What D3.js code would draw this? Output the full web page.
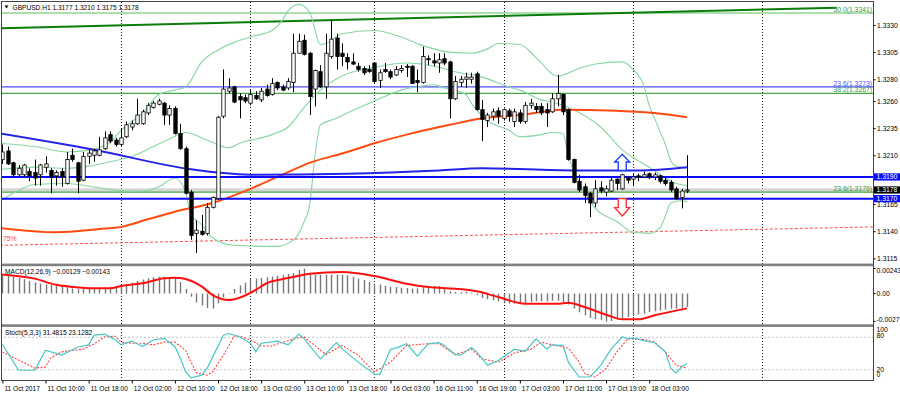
<!DOCTYPE html>
<html><head><meta charset="utf-8">
<script src="https://cdn.jsdelivr.net/npm/d3@7"></script>
<style>
html,body{margin:0;padding:0;background:#fff;}
svg{display:block;font-family:"Liberation Sans",Arial,sans-serif;}
</style></head><body>
<svg id="chart" width="900" height="394"></svg>
<script>
// ---------------- DATA ----------------
const symbolTitle = "GBPUSD.H1";
const opens = [1.3206,1.3214,1.3203,1.3192,1.3192,1.3195,1.3194,1.3192,1.3199,1.3196,
1.3191,1.3195,1.3184,1.3210,1.3203,1.3187,1.3209,1.3210,1.3210,1.3216,
1.3229,1.3224,1.3220,1.3227,1.3236,1.3239,1.3239,1.3249,1.3254,1.3257,
1.3258,1.3247,1.3253,1.3230,1.3216,1.3176,1.3138,1.3140,1.3138,1.3162,
1.3170,1.3246,1.3269,1.3273,1.3264,1.3263,1.3258,1.3265,1.3261,1.3271,
1.3266,1.3277,1.3273,1.3272,1.3277,1.3304,1.3316,1.3304,1.3271,1.3287,
1.3273,1.3301,1.3318,1.3304,1.3300,1.3296,1.3292,1.3290,1.3289,1.3295,
1.3279,1.3289,1.3287,1.3284,1.3288,1.3292,1.3292,1.3279,1.3277,1.3299,
1.3297,1.3295,1.3299,1.3296,1.3262,1.3277,1.3280,1.3280,1.3285,1.3252,
1.3242,1.3246,1.3251,1.3244,1.3251,1.3241,1.3249,1.3241,1.3256,1.3255,
1.3255,1.3252,1.3250,1.3262,1.3266,1.3252,1.3206,1.3186,1.3181,1.3175,
1.3166,1.3180,1.3176,1.3177,1.3188,1.3179,1.3189,1.3188,1.3191,1.3190,
1.3193,1.3190,1.3191,1.3187,1.3185,1.3179,1.3171,1.3177];
const highs = [1.3220,1.3218,1.3204,1.3201,1.3202,1.3198,1.3206,1.3202,1.3209,1.3198,
1.3196,1.3198,1.3213,1.3216,1.3204,1.3213,1.3215,1.3216,1.3227,1.3232,
1.3232,1.3226,1.3235,1.3241,1.3242,1.3262,1.3252,1.3258,1.3260,1.3262,
1.3259,1.3256,1.3255,1.3239,1.3218,1.3178,1.3150,1.3155,1.3166,1.3172,
1.3246,1.3289,1.3281,1.3274,1.3267,1.3266,1.3270,1.3269,1.3272,1.3275,
1.3281,1.3278,1.3275,1.3281,1.3322,1.3322,1.3321,1.3305,1.3289,1.3293,
1.3322,1.3335,1.3322,1.3313,1.3304,1.3304,1.3295,1.3292,1.3293,1.3295,
1.3289,1.3295,1.3289,1.3292,1.3293,1.3294,1.3293,1.3289,1.3310,1.3302,
1.3304,1.3304,1.3304,1.3297,1.3283,1.3283,1.3286,1.3286,1.3287,1.3261,
1.3249,1.3253,1.3254,1.3253,1.3253,1.3253,1.3252,1.3259,1.3262,1.3258,
1.3258,1.3258,1.3267,1.3284,1.3267,1.3253,1.3207,1.3192,1.3184,1.3176,
1.3187,1.3186,1.3182,1.3190,1.3189,1.3193,1.3190,1.3193,1.3193,1.3195,
1.3194,1.3194,1.3192,1.3189,1.3187,1.3181,1.3179,1.3210];
const lows = [1.3202,1.3201,1.3190,1.3191,1.3190,1.3186,1.3182,1.3182,1.3194,1.3175,
1.3182,1.3181,1.3183,1.3204,1.3175,1.3186,1.3202,1.3204,1.3209,1.3215,
1.3221,1.3218,1.3218,1.3226,1.3233,1.3238,1.3238,1.3247,1.3253,1.3256,
1.3238,1.3238,1.3229,1.3215,1.3174,1.3132,1.3120,1.3136,1.3136,1.3161,
1.3169,1.3244,1.3267,1.3258,1.3244,1.3258,1.3256,1.3261,1.3259,1.3264,
1.3265,1.3270,1.3269,1.3270,1.3268,1.3304,1.3302,1.3247,1.3255,1.3272,
1.3262,1.3299,1.3289,1.3292,1.3289,1.3293,1.3287,1.3284,1.3286,1.3276,
1.3272,1.3286,1.3280,1.3283,1.3286,1.3282,1.3276,1.3268,1.3276,1.3293,
1.3292,1.3286,1.3293,1.3244,1.3261,1.3273,1.3272,1.3276,1.3251,1.3223,
1.3236,1.3242,1.3239,1.3242,1.3241,1.3236,1.3239,1.3239,1.3253,1.3249,
1.3247,1.3236,1.3249,1.3255,1.3247,1.3205,1.3184,1.3176,1.3166,1.3153,
1.3162,1.3175,1.3172,1.3176,1.3178,1.3178,1.3184,1.3182,1.3186,1.3189,
1.3188,1.3187,1.3184,1.3182,1.3176,1.3169,1.3161,1.3175];
const closes = [1.3213,1.3202,1.3192,1.3198,1.3201,1.3191,1.3189,1.3201,1.3202,1.3190,
1.3194,1.3190,1.3206,1.3206,1.3186,1.3209,1.3212,1.3214,1.3215,1.3226,
1.3223,1.3220,1.3226,1.3238,1.3239,1.3247,1.3250,1.3256,1.3258,1.3260,
1.3247,1.3253,1.3230,1.3216,1.3175,1.3136,1.3141,1.3137,1.3162,1.3171,
1.3245,1.3271,1.3272,1.3259,1.3261,1.3260,1.3266,1.3262,1.3269,1.3265,
1.3276,1.3272,1.3270,1.3278,1.3304,1.3315,1.3303,1.3264,1.3288,1.3273,
1.3304,1.3317,1.3301,1.3301,1.3296,1.3294,1.3289,1.3286,1.3287,1.3278,
1.3286,1.3287,1.3282,1.3289,1.3290,1.3291,1.3276,1.3277,1.3301,1.3298,
1.3295,1.3298,1.3295,1.3262,1.3278,1.3280,1.3282,1.3282,1.3252,1.3243,
1.3247,1.3250,1.3246,1.3252,1.3246,1.3250,1.3241,1.3256,1.3258,1.3252,
1.3249,1.3249,1.3262,1.3267,1.3250,1.3206,1.3185,1.3178,1.3173,1.3166,
1.3179,1.3177,1.3179,1.3187,1.3184,1.3192,1.3187,1.3190,1.3190,1.3192,
1.3190,1.3192,1.3186,1.3184,1.3178,1.3170,1.3177,1.3178];

// x-axis labels (every 8 bars) and day boundaries (bar index)
const tickBars = [0,8,16,24,32,40,48,56,64,72,80,88,96,104,112,120];
const tickLabels = ["11 Oct 2017","11 Oct 10:00","11 Oct 18:00","12 Oct 02:00","12 Oct 10:00","12 Oct 18:00","13 Oct 02:00","13 Oct 10:00","13 Oct 18:00","16 Oct 03:00","16 Oct 11:00","16 Oct 19:00","17 Oct 03:00","17 Oct 11:00","17 Oct 19:00","18 Oct 03:00"];
const dayStartBars = [22,46,69,93,117,141];
const priceTicks = [1.3330,1.3305,1.3280,1.3260,1.3235,1.3210,1.3165,1.3140,1.3115];

// objects on the price chart
const fibPrices = [1.3341,1.3273,1.3267,1.3176];
const fibRatios = ["50.0","23.6","38.2","23.6"];
const levelPrices = [1.3190,1.3170];
const bidPrice = 1.3178;
const greenTrend = [[-0.45,1.3327],[154.8,1.3346]];
const redTrend = [[-0.45,1.3127],[162,1.3144]];
const redTrendLabel = "75%";
const upArrow = [115,1.3211,1.3196];   // bar, top price, bottom price
const downArrow = [115,1.3170,1.3154];

// indicators: [bar, value]
const bbUpper = [[-0.4,1.3221],[6,1.3218],[12,1.3213],[15,1.3214],[18,1.3217],[20,1.3222],[22,1.3233],[26,1.3249],[29,1.3266],[32,1.3270],[34,1.3273],[37,1.3296],[40,1.3307],[43,1.3314],[46,1.3319],[50,1.3325],[52,1.3335],[53,1.3343],[55,1.3349],[57,1.3342],[59,1.3312],[60,1.3313],[63,1.3322],[69,1.3325],[74,1.3319],[78,1.3311],[83,1.3305],[87,1.3304],[90,1.3308],[92,1.3313],[96,1.3312],[99,1.3300],[103,1.3283],[107,1.3290],[110,1.3294],[115,1.3296],[117,1.3289],[119,1.3274],[120,1.3256],[121,1.3244],[122,1.3232],[123,1.3220],[124,1.3205],[125,1.3200],[127,1.3198]];
const bbMiddle = [[-0.4,1.3197],[6,1.3199],[12,1.3198],[16,1.3200],[20,1.3204],[24,1.3209],[28,1.3218],[31,1.3225],[34,1.3231],[38,1.3224],[42,1.3217],[44,1.3221],[50,1.3229],[53,1.3236],[56,1.3254],[59,1.3270],[63,1.3283],[69,1.3291],[75,1.3295],[81,1.3291],[84,1.3287],[89,1.3282],[94,1.3273],[96,1.3270],[100,1.3261],[102,1.3259],[105,1.3254],[111,1.3236],[115,1.3215],[120,1.3199],[125,1.3184],[127,1.3182]];
const bbLower = [[-0.4,1.3168],[2,1.3175],[6,1.3183],[12,1.3184],[18,1.3180],[23,1.3177],[26,1.3177],[29,1.3181],[32,1.3189],[34,1.3176],[35,1.3155],[37,1.3146],[39,1.3134],[43,1.3127],[51,1.3126],[54,1.3132],[56,1.3149],[57,1.3164],[58,1.3210],[59,1.3238],[62,1.3244],[64,1.3249],[69,1.3260],[74,1.3270],[77,1.3273],[80,1.3275],[82,1.3272],[86,1.3266],[87,1.3258],[90,1.3242],[94,1.3233],[96,1.3227],[100,1.3229],[102,1.3231],[104,1.3230],[105,1.3210],[106,1.3195],[107,1.3185],[108,1.3176],[110,1.3161],[114,1.3149],[117,1.3139],[120,1.3138],[122,1.3143],[123,1.3154],[124,1.3166],[126,1.3168],[127,1.3167]];
const maRed = [[-0.4,1.3143],[10,1.3139],[18,1.3142],[22,1.3144],[27,1.3151],[32,1.3158],[39,1.3166],[46,1.3179],[51,1.3190],[57,1.3203],[64,1.3213],[69,1.3221],[75,1.3229],[83,1.3238],[89,1.3244],[96,1.3247],[104,1.3252],[114,1.3251],[121,1.3249],[127,1.3245]];
const maBlue = [[-0.4,1.3230],[17,1.3215],[35,1.3197],[40,1.3194],[46,1.3192],[64,1.3193],[81,1.3196],[89,1.3198],[106,1.3196],[118,1.3196],[127,1.3199]];

const macdMain = [0.00187,0.00177,0.00164,0.00151,0.00138,0.00122,0.00107,0.00096,0.00089,0.00083,
0.00076,0.00069,0.00060,0.00049,0.00042,0.00049,0.00057,0.00058,0.00052,0.00058,
0.00066,0.00074,0.00083,0.00093,0.00107,0.00122,0.00136,0.00149,0.00158,0.00164,
0.00164,0.00159,0.00155,0.00112,0.00045,-0.00030,-0.00086,-0.00115,-0.00139,-0.00144,
-0.00094,-0.00038,0.00006,0.00045,0.00078,0.00105,0.00139,0.00146,0.00151,0.00158,
0.00166,0.00173,0.00179,0.00190,0.00199,0.00228,0.00243,0.00195,0.00183,0.00183,
0.00183,0.00183,0.00183,0.00182,0.00177,0.00163,0.00145,0.00131,0.00114,0.00098,
0.00087,0.00075,0.00066,0.00064,0.00056,0.00054,0.00049,0.00053,0.00061,0.00072,
0.00074,0.00074,0.00049,0.00022,0.00015,0.00015,0.00018,0.00009,-0.00016,-0.00043,
-0.00054,-0.00065,-0.00073,-0.00084,-0.00095,-0.00098,-0.00098,-0.00093,-0.00081,-0.00075,
-0.00075,-0.00075,-0.00070,-0.00068,-0.00081,-0.00106,-0.00144,-0.00181,-0.00210,-0.00237,
-0.00245,-0.00259,-0.00270,-0.00266,-0.00249,-0.00236,-0.00227,-0.00216,-0.00203,-0.00195,
-0.00178,-0.00171,-0.00164,-0.00153,-0.00146,-0.00146,-0.00140,-0.00129];
const macdSignal = [[-0.4,0.00187],[6,0.00145],[10,0.00085],[13,0.00065],[16,0.00053],[20,0.00051],[22,0.00074],[26,0.00100],[30,0.00148],[32,0.00154],[34,0.00141],[37,0.00067],[39,-0.00014],[42,-0.00062],[44,-0.00040],[47,0.00035],[49,0.00100],[52,0.00141],[55,0.00173],[57,0.00193],[63,0.00209],[69,0.00170],[75,0.00096],[79,0.00064],[84,0.00047],[88,0.00022],[92,-0.00033],[97,-0.00098],[103,-0.00098],[105,-0.00088],[108,-0.00130],[112,-0.00204],[115,-0.00249],[118,-0.00249],[121,-0.00210],[127,-0.00143]];
const macdAxisLabels = ["0.00243","0.00","-0.0027"];
const macdAxisValues = [0.00243,0,-0.0027];

const stochK = [[0,67],[3,19],[6,19],[8,56],[11,47],[14,62],[16,66],[17,84],[19,86],[21,75],[22,66],[24,73],[26,63],[28,75],[30,78],[32,63],[33,41],[34,16],[35,5],[37,10],[38,23],[41,84],[42,87],[44,81],[46,69],[47,53],[48,69],[51,73],[53,66],[55,86],[56,77],[59,40],[62,70],[63,59],[66,34],[69,12],[70,11],[72,58],[73,60],[75,68],[77,45],[79,68],[81,70],[82,65],[84,48],[85,47],[87,61],[88,53],[90,28],[92,37],[95,58],[97,54],[99,77],[101,58],[102,66],[104,65],[105,34],[107,6.5],[109,6.5],[111,28],[113,59],[115,81],[116,77],[117,79],[119,74],[121,70],[123,53],[124,23],[125,14],[126,25],[127,31.4815]];
const stochD = [[0,53],[3,38],[6,23],[8,25],[9,42],[11,53],[13,56],[15,58],[17,68],[19,81],[21,82],[22,71],[24,69],[26,69],[28,66],[30,71],[32,71],[34,56],[35,34],[36,14],[38,10],[39,16],[41,47],[43,82],[44,82],[46,75],[48,64],[50,64],[52,71],[55,79],[56,80.5],[60,48],[63,65],[66,47],[69,16],[72,34],[75,65],[79,68],[81,68],[84,48],[87,58],[89,40],[92,34],[95,51],[98,58],[100,71],[102,66],[105,60],[107,34],[108,13],[110,6.5],[112,22],[114,53],[116,77],[119,76],[121,71],[123,53],[125,28],[127,23.1282]];
const stochLevels = [80,20];
const stochAxisValues = [100,80,20,0];

// ---------------- DRAWING ----------------
const svg = d3.select("#chart");
const AX = 873;                     // right axis line
const N = opens.length;
const x = d3.scaleLinear().domain([0, N-1]).range([2.4, 2.4 + (N-1)*5.39]);
const y = d3.scaleLinear().domain([1.31107, 1.33512]).range([263, 2]);
const ym = d3.scaleLinear().domain([-0.0027, 0.00243]).range([321.5, 268.5]);
const ys = d3.scaleLinear().domain([0, 100]).range([380.5, 326.5]);
const FS = "6.8px";

svg.append("rect").attr("width",900).attr("height",394).attr("fill","#fff");
const defs = svg.append("defs");
function clip(id, y0, y1){ defs.append("clipPath").attr("id",id).append("rect").attr("x",2).attr("y",y0).attr("width",AX-2).attr("height",y1-y0); }
clip("cMain",2,263.5); clip("cMacd",266.5,324.3); clip("cSto",327,380);

// vertical day grid
svg.append("g").selectAll("line").data(dayStartBars).join("line")
  .attr("x1",d=>Math.round(x(d))+0.5).attr("x2",d=>Math.round(x(d))+0.5)
  .attr("y1",2).attr("y2",380).attr("stroke","#111").attr("stroke-width",1)
  .attr("stroke-dasharray","1,2");

// ---- main panel
const gm = svg.append("g").attr("clip-path","url(#cMain)");
gm.append("line").attr("x1",0).attr("x2",AX).attr("y1",y(bidPrice)).attr("y2",y(bidPrice))
  .attr("stroke","#d6d6d6").attr("stroke-width",3.5);
const fibColors = ["#5bbf5b","#4f4fff","#45a845","#45a845"];
fibPrices.forEach((p,i)=>{
  gm.append("line").attr("x1",0).attr("x2",AX).attr("y1",y(p)).attr("y2",y(p))
    .attr("stroke",fibColors[i]).attr("stroke-width",1.1);
});
const lineP = d3.line().x(d=>x(d[0])).y(d=>y(d[1]));
const curveP = d3.line().x(d=>x(d[0])).y(d=>y(d[1])).curve(d3.curveMonotoneX);
gm.append("path").attr("d",lineP(greenTrend)).attr("fill","none").attr("stroke","#0a7d0a").attr("stroke-width",2);
gm.append("path").attr("d",lineP(redTrend)).attr("fill","none").attr("stroke","#ff4d4d").attr("stroke-width",1).attr("stroke-dasharray","3,2");
[bbUpper,bbMiddle,bbLower].forEach(s=>{
  gm.append("path").attr("d",curveP(s)).attr("fill","none").attr("stroke","#86d6a3").attr("stroke-width",1.1);
});
gm.append("path").attr("d",curveP(maRed)).attr("fill","none").attr("stroke","#ff4a10").attr("stroke-width",2);
gm.append("path").attr("d",curveP(maBlue)).attr("fill","none").attr("stroke","#2424e8").attr("stroke-width",2);
levelPrices.forEach(p=>{
  gm.append("line").attr("x1",0).attr("x2",AX).attr("y1",y(p)).attr("y2",y(p))
    .attr("stroke","#0a0aff").attr("stroke-width",2);
});
// candles
const idx = d3.range(N);
gm.append("g").selectAll("line").data(idx).join("line")
  .attr("x1",i=>Math.round(x(i))+0.5).attr("x2",i=>Math.round(x(i))+0.5)
  .attr("y1",i=>y(highs[i])).attr("y2",i=>y(lows[i]))
  .attr("stroke","#000").attr("stroke-width",1);
gm.append("g").selectAll("rect").data(idx).join("rect")
  .attr("x",i=>Math.round(x(i))+0.5-1.7).attr("width",3.4)
  .attr("y",i=>y(Math.max(opens[i],closes[i])))
  .attr("height",i=>Math.max(0.8, Math.abs(y(opens[i])-y(closes[i]))))
  .attr("fill",i=>closes[i]>=opens[i]?"#fff":"#000")
  .attr("stroke","#000").attr("stroke-width",0.8);
// arrows
function arrow(a, up, color){
  const cx = x(a[0]), top = y(a[1]), bot = y(a[2]);
  const hw = 7.5, sw = 4, headLen = (bot-top)*0.48;
  let pts;
  if(up){
    const hb = top+headLen;
    pts = [[cx,top],[cx+hw,hb],[cx+sw,hb],[cx+sw,bot],[cx-sw,bot],[cx-sw,hb],[cx-hw,hb]];
  } else {
    const hb = bot-headLen;
    pts = [[cx,bot],[cx+hw,hb],[cx+sw,hb],[cx+sw,top],[cx-sw,top],[cx-sw,hb],[cx-hw,hb]];
  }
  gm.append("path").attr("d","M"+pts.map(p=>p.join(",")).join("L")+"Z")
    .attr("fill","#fff").attr("stroke",color).attr("stroke-width",1.4);
}
arrow(upArrow,true,"#1f3fff");
arrow(downArrow,false,"#ff3030");
gm.append("text").attr("x",3).attr("y",y(redTrend[0][1])-4.5).attr("font-size",FS)
  .attr("fill","#ff4d4d").text(redTrendLabel);
// fib labels
fibPrices.forEach((p,i)=>{
  gm.append("text").attr("x",AX-1).attr("y",y(p)-1.3).attr("text-anchor","end")
    .attr("font-size",FS).attr("fill",i===1?"#4f4fff":"#3b9a3b")
    .text(fibRatios[i]+"("+d3.format(".4f")(p)+")");
});
// header
svg.append("path").attr("d","M4.5,5.5L8.5,5.5L6.5,8.5Z").attr("fill","#000");
const last = N-1, f4 = d3.format(".4f");
svg.append("text").attr("x",12.5).attr("y",9.8).attr("font-size","6.6px").attr("fill","#000")
  .text(`${symbolTitle}  ${f4(opens[last])} ${f4(highs[last])} ${f4(lows[last])} ${f4(closes[last])}`);

// ---- MACD panel
const gd = svg.append("g").attr("clip-path","url(#cMacd)");
gd.append("g").selectAll("line").data(idx).join("line")
  .attr("x1",i=>Math.round(x(i))+0.5).attr("x2",i=>Math.round(x(i))+0.5)
  .attr("y1",ym(0)).attr("y2",i=>ym(macdMain[i]))
  .attr("stroke","#777").attr("stroke-width",1.4);
gd.append("path").attr("d",d3.line().x(d=>x(d[0])).y(d=>ym(d[1])).curve(d3.curveMonotoneX)(macdSignal))
  .attr("fill","none").attr("stroke","#ff1010").attr("stroke-width",2);
const f5 = d3.format(".5f");
svg.append("text").attr("x",5).attr("y",273.5).attr("font-size","6.6px").attr("fill","#000")
  .text(`MACD(12,26,9) ${f5(macdMain[last])} ${f5(macdSignal[macdSignal.length-1][1])}`);

// ---- Stochastic panel
const gs = svg.append("g").attr("clip-path","url(#cSto)");
stochLevels.forEach(l=>{
  gs.append("line").attr("x1",0).attr("x2",AX).attr("y1",ys(l)).attr("y2",ys(l))
    .attr("stroke","#c4c4c4").attr("stroke-width",1).attr("stroke-dasharray","2,2");
});
gs.append("path").attr("d",d3.line().x(d=>x(d[0])).y(d=>ys(d[1]))(stochD))
  .attr("fill","none").attr("stroke","#ff4040").attr("stroke-width",1.1).attr("stroke-dasharray","2,1.5");
gs.append("path").attr("d",d3.line().x(d=>x(d[0])).y(d=>ys(d[1]))(stochK))
  .attr("fill","none").attr("stroke","#48c6c6").attr("stroke-width",1.2);
svg.append("text").attr("x",5).attr("y",334.6).attr("font-size","6.6px").attr("fill","#000")
  .text(`Stoch(5,3,3) ${f4(stochK[stochK.length-1][1])} ${f4(stochD[stochD.length-1][1])}`);

// ---- separators & frame
svg.append("rect").attr("x",1.5).attr("y",263.6).attr("width",AX-1.5).attr("height",2.6).attr("fill","#808080");
svg.append("rect").attr("x",1.5).attr("y",324.3).attr("width",AX-1.5).attr("height",2.6).attr("fill","#808080");
const frame = svg.append("g").attr("stroke","#444").attr("stroke-width",1).attr("fill","none");
frame.append("line").attr("x1",1.5).attr("x2",1.5).attr("y1",1).attr("y2",380.5);
frame.append("line").attr("x1",1).attr("x2",AX+0.5).attr("y1",1.5).attr("y2",1.5);
frame.append("line").attr("x1",AX+0.5).attr("x2",AX+0.5).attr("y1",1).attr("y2",381);
frame.append("line").attr("x1",1).attr("x2",AX+0.5).attr("y1",380.5).attr("y2",380.5);

// ---- right price axis
const ga = svg.append("g").attr("transform",`translate(${AX+0.5},0)`)
  .call(d3.axisRight(y).tickValues(priceTicks).tickSize(2).tickPadding(1.5).tickFormat(f4));
ga.select(".domain").remove();
ga.selectAll("line").attr("stroke","#000");
ga.selectAll("text").attr("font-size",FS).attr("fill","#000").attr("font-family","Liberation Sans, Arial, sans-serif");

// price tags
function tag(p, bg){
  const yy = y(p);
  svg.append("rect").attr("x",AX+1).attr("y",yy-3.6).attr("width",26).attr("height",7.2).attr("fill",bg);
  svg.append("text").attr("x",AX+3.5).attr("y",yy+2.4).attr("font-size",FS).attr("fill","#fff").text(f4(p));
}
tag(levelPrices[0],"#0a0aff");
tag(bidPrice,"#000");
tag(levelPrices[1],"#0a0aff");

// MACD axis
const macdLabelY = [ym(macdAxisValues[0])+1.8, ym(macdAxisValues[1]), ym(macdAxisValues[2])-1.5];
macdAxisValues.forEach((v,i)=>{
  svg.append("line").attr("x1",AX+0.5).attr("x2",AX+2.5).attr("y1",ym(v)).attr("y2",ym(v)).attr("stroke","#000");
  svg.append("text").attr("x",AX+3.5).attr("y",macdLabelY[i]+2.4).attr("font-size",FS).attr("fill","#000").text(macdAxisLabels[i]);
});
// Stoch axis
const stochLabelY = [ys(100)+3.5, ys(80)-2, ys(20)-0.5, ys(0)-6];
stochAxisValues.forEach((v,i)=>{
  svg.append("text").attr("x",AX+3.5).attr("y",stochLabelY[i]+2.4).attr("font-size",FS).attr("fill","#000").text(String(v));
});

// ---- time axis
const gx = svg.append("g").attr("transform","translate(0,380.5)")
  .call(d3.axisBottom(x).tickValues(tickBars).tickSize(3).tickPadding(3).tickFormat((d,i)=>tickLabels[i]));
gx.select(".domain").remove();
gx.selectAll("line").attr("stroke","#000");
gx.selectAll("text").attr("font-size","6.6px").attr("fill","#000").attr("text-anchor","start")
  .attr("dx","1.5").attr("font-family","Liberation Sans, Arial, sans-serif");
</script>
</body></html>
